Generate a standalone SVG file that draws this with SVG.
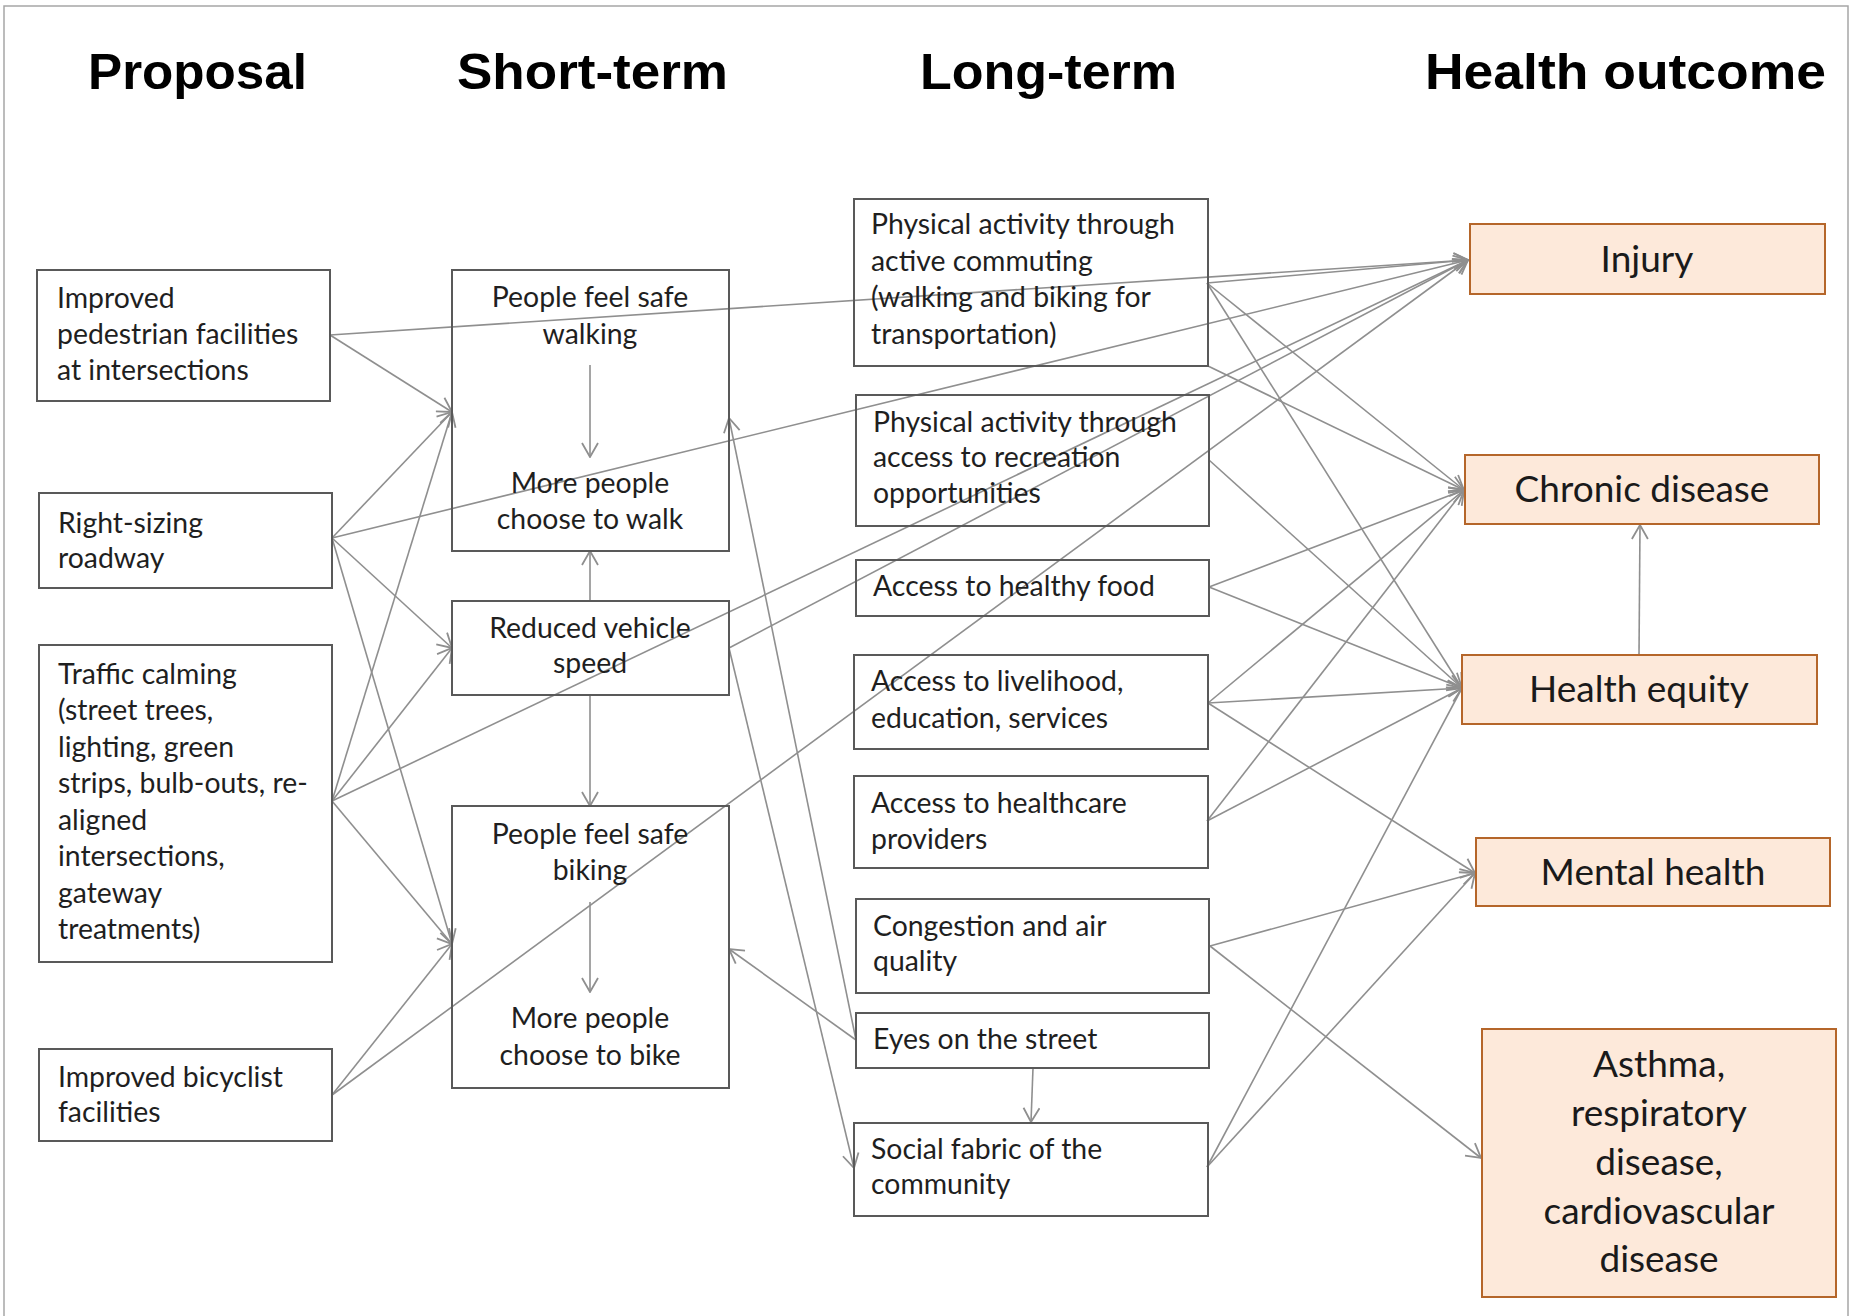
<svg xmlns="http://www.w3.org/2000/svg" width="1851" height="1316" viewBox="0 0 1851 1316">
<style>
.bx{fill:#fff;stroke:#595959;stroke-width:2}
.ob{fill:#fde9da;stroke:#b5662a;stroke-width:2}
.t{font-family:Lato,"Open Sans",sans-serif;font-size:28.4px;fill:#1f1f1f}
.c{text-anchor:middle}
.o{font-family:Lato,"Open Sans",sans-serif;font-size:37px;fill:#1a1a1a;text-anchor:middle}
.h{font-family:"Liberation Sans",Arial,sans-serif;font-weight:bold;font-size:50px;fill:#000}
.e line{stroke:#8f8f8f;stroke-width:1.6;fill:none;marker-end:url(#a)}
</style>
<defs>
<marker id="a" viewBox="0 0 16 18" refX="15" refY="9" markerWidth="16" markerHeight="18" markerUnits="userSpaceOnUse" orient="auto">
<path d="M1,1 L15,9 L1,17" fill="none" stroke="#8f8f8f" stroke-width="1.8"/>
</marker>
</defs>
<rect x="0" y="0" width="1851" height="1316" fill="#fff"/>
<path d="M4,1316 V6 H1848 V1316" fill="none" stroke="#a6a6a6" stroke-width="1.5"/>

<g id="headers">
<text class="h" x="88" y="89" textLength="219" lengthAdjust="spacingAndGlyphs">Proposal</text>
<text class="h" x="457" y="89" textLength="271" lengthAdjust="spacingAndGlyphs">Short-term</text>
<text class="h" x="920" y="89" textLength="257" lengthAdjust="spacingAndGlyphs">Long-term</text>
<text class="h" x="1425" y="89" textLength="401" lengthAdjust="spacingAndGlyphs">Health outcome</text>
</g>

<g class="e" id="connectors">
<line x1="330" y1="335" x2="452" y2="412"/>
<line x1="330" y1="335" x2="1468" y2="260"/>
<line x1="332" y1="538" x2="452" y2="412"/>
<line x1="332" y1="538" x2="452" y2="648"/>
<line x1="332" y1="538" x2="452" y2="944"/>
<line x1="332" y1="538" x2="1468" y2="260"/>
<line x1="332" y1="801" x2="452" y2="412"/>
<line x1="332" y1="801" x2="452" y2="648"/>
<line x1="332" y1="801" x2="452" y2="944"/>
<line x1="332" y1="801" x2="1468" y2="260"/>
<line x1="332" y1="1095" x2="452" y2="944"/>
<line x1="332" y1="1095" x2="1468" y2="260"/>
<line x1="590" y1="365" x2="590" y2="457"/>
<line x1="590" y1="601" x2="590" y2="551"/>
<line x1="590" y1="695" x2="590" y2="806"/>
<line x1="590" y1="902" x2="590" y2="992"/>
<line x1="729" y1="648" x2="1468" y2="260"/>
<line x1="729" y1="648" x2="854" y2="1168"/>
<line x1="856" y1="1040" x2="729" y2="418"/>
<line x1="856" y1="1040" x2="729" y2="949"/>
<line x1="1033" y1="1068" x2="1031" y2="1122"/>
<line x1="1207" y1="283" x2="1468" y2="260"/>
<line x1="1207" y1="283" x2="1464" y2="490"/>
<line x1="1207" y1="283" x2="1462" y2="688"/>
<line x1="1208" y1="366" x2="1464" y2="490"/>
<line x1="1209" y1="460" x2="1462" y2="688"/>
<line x1="1209" y1="587" x2="1464" y2="490"/>
<line x1="1209" y1="587" x2="1462" y2="688"/>
<line x1="1208" y1="703" x2="1464" y2="490"/>
<line x1="1208" y1="703" x2="1462" y2="688"/>
<line x1="1208" y1="703" x2="1475" y2="873"/>
<line x1="1207" y1="821" x2="1464" y2="490"/>
<line x1="1207" y1="821" x2="1462" y2="688"/>
<line x1="1210" y1="946" x2="1475" y2="873"/>
<line x1="1210" y1="946" x2="1481" y2="1158"/>
<line x1="1207" y1="1167" x2="1462" y2="688"/>
<line x1="1207" y1="1167" x2="1475" y2="873"/>
<line x1="1639" y1="655" x2="1640" y2="525"/>
</g>

<g id="n-pedestrian"><rect class="bx" x="37" y="270" width="293" height="131"/>
<text class="t" x="57" y="308">Improved</text><text class="t" x="57" y="344">pedestrian facilities</text><text class="t" x="57" y="380">at intersections</text></g>
<g id="n-rightsizing"><rect class="bx" x="39" y="493" width="293" height="95"/>
<text class="t" x="58" y="533">Right-sizing</text><text class="t" x="58" y="568">roadway</text></g>
<g id="n-traffic"><rect class="bx" x="39" y="645" width="293" height="317"/>
<text class="t" x="58" y="684">Traffic calming</text><text class="t" x="58" y="720">(street trees,</text><text class="t" x="58" y="757">lighting, green</text><text class="t" x="58" y="793">strips, bulb-outs, re-</text><text class="t" x="58" y="830">aligned</text><text class="t" x="58" y="866">intersections,</text><text class="t" x="58" y="903">gateway</text><text class="t" x="58" y="939">treatments)</text></g>
<g id="n-bicyclist"><rect class="bx" x="39" y="1049" width="293" height="92"/>
<text class="t" x="58" y="1087">Improved bicyclist</text><text class="t" x="58" y="1122">facilities</text></g>

<g id="n-walking"><rect class="bx" x="452" y="270" width="277" height="281" fill-opacity="0"/>
<text class="t c" x="590" y="307">People feel safe</text><text class="t c" x="590" y="344">walking</text><text class="t c" x="590" y="493">More people</text><text class="t c" x="590" y="529">choose to walk</text></g>
<g id="n-vehicle"><rect class="bx" x="452" y="601" width="277" height="94" fill-opacity="0"/>
<text class="t c" x="590" y="638">Reduced vehicle</text><text class="t c" x="590" y="673">speed</text></g>
<g id="n-biking"><rect class="bx" x="452" y="806" width="277" height="282" fill-opacity="0"/>
<text class="t c" x="590" y="844">People feel safe</text><text class="t c" x="590" y="880">biking</text><text class="t c" x="590" y="1028">More people</text><text class="t c" x="590" y="1065">choose to bike</text></g>

<g id="n-commuting"><rect class="bx" x="854" y="199" width="354" height="167" fill-opacity="0"/>
<text class="t" x="871" y="234">Physical activity through</text><text class="t" x="871" y="271">active commuting</text><text class="t" x="871" y="307">(walking and biking for</text><text class="t" x="871" y="344">transportation)</text></g>
<g id="n-recreation"><rect class="bx" x="856" y="395" width="353" height="131" fill-opacity="0"/>
<text class="t" x="873" y="432">Physical activity through</text><text class="t" x="873" y="467">access to recreation</text><text class="t" x="873" y="503">opportunities</text></g>
<g id="n-food"><rect class="bx" x="856" y="560" width="353" height="56" fill-opacity="0"/>
<text class="t" x="873" y="596">Access to healthy food</text></g>
<g id="n-livelihood"><rect class="bx" x="854" y="655" width="354" height="94" fill-opacity="0"/>
<text class="t" x="871" y="691">Access to livelihood,</text><text class="t" x="871" y="728">education, services</text></g>
<g id="n-healthcare"><rect class="bx" x="854" y="776" width="354" height="92" fill-opacity="0"/>
<text class="t" x="871" y="813">Access to healthcare</text><text class="t" x="871" y="849">providers</text></g>
<g id="n-congestion"><rect class="bx" x="856" y="899" width="353" height="94" fill-opacity="0"/>
<text class="t" x="873" y="936">Congestion and air</text><text class="t" x="873" y="971">quality</text></g>
<g id="n-eyes"><rect class="bx" x="856" y="1013" width="353" height="55" fill-opacity="0"/>
<text class="t" x="873" y="1049">Eyes on the street</text></g>
<g id="n-social"><rect class="bx" x="854" y="1123" width="354" height="93" fill-opacity="0"/>
<text class="t" x="871" y="1159">Social fabric of the</text><text class="t" x="871" y="1194">community</text></g>

<g id="n-injury"><rect class="ob" x="1470" y="224" width="355" height="70"/><text class="o" x="1647" y="272">Injury</text></g>
<g id="n-chronic"><rect class="ob" x="1465" y="455" width="354" height="69"/><text class="o" x="1642" y="502">Chronic disease</text></g>
<g id="n-equity"><rect class="ob" x="1462" y="655" width="355" height="69"/><text class="o" x="1639" y="702">Health equity</text></g>
<g id="n-mental"><rect class="ob" x="1476" y="838" width="354" height="68"/><text class="o" x="1653" y="885">Mental health</text></g>
<g id="n-asthma"><rect class="ob" x="1482" y="1029" width="354" height="268"/>
<text class="o" x="1659" y="1077">Asthma,</text><text class="o" x="1659" y="1126">respiratory</text><text class="o" x="1659" y="1175">disease,</text><text class="o" x="1659" y="1224">cardiovascular</text><text class="o" x="1659" y="1272">disease</text></g>
</svg>
